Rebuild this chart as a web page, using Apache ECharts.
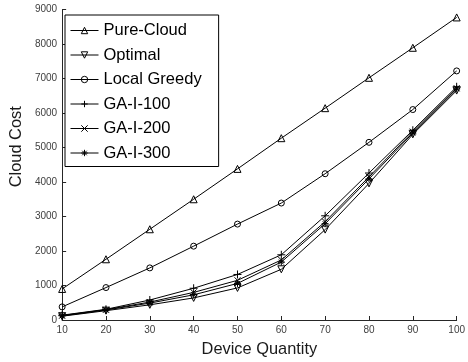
<!DOCTYPE html>
<html>
<head>
<meta charset="utf-8">
<script src="https://cdn.jsdelivr.net/npm/echarts@6/dist/echarts.min.js"></script>
<style>
  html, body { margin: 0; padding: 0; background: #fff; }
  #chart { width: 468px; height: 362px; }
</style>
</head>
<body>
<div id="chart"></div>
<script>
// Device counts on the x axis
const deviceQuantity = [10, 20, 30, 40, 50, 60, 70, 80, 90, 100];

// Cloud cost per strategy
const pureCloud   = [900, 1760, 2630, 3500, 4380, 5270, 6140, 7020, 7890, 8770];
const optimal     = [110, 270, 440, 640, 930, 1470, 2620, 3960, 5380, 6650];
const localGreedy = [380, 940, 1510, 2140, 2780, 3390, 4240, 5150, 6100, 7220];
const gaI100      = [140, 310, 580, 920, 1320, 1890, 3020, 4260, 5500, 6760];
const gaI200      = [130, 300, 520, 800, 1150, 1740, 2850, 4150, 5460, 6720];
const gaI300      = [120, 290, 490, 730, 1060, 1680, 2790, 4090, 5420, 6700];

const yTicks = [0, 1000, 2000, 3000, 4000, 5000, 6000, 7000, 8000, 9000];

// Marker outlines (stroked, unfilled)
const SYM_DOWN = 'path://M0,0 L10,0 L5,9 Z';
const SYM_PLUS = 'path://M5,0 L5,10 M0,5 L10,5';
const SYM_X    = 'path://M0,0 L10,10 M10,0 L0,10';
const SYM_STAR = 'path://M5,0 L5,10 M0,5 L10,5 M1.5,1.5 L8.5,8.5 M8.5,1.5 L1.5,8.5';

const FONT = 'Liberation Sans, Arial, Helvetica, sans-serif';

function pairs(vals) {
  return deviceQuantity.map((x, i) => [x, vals[i]]);
}

function lineSeries(name, vals, symbol, size) {
  return {
    name: name,
    type: 'line',
    data: pairs(vals),
    symbol: symbol,
    symbolSize: size,
    showAllSymbol: true,
    lineStyle: { color: '#000', width: 1 },
    itemStyle: { color: 'rgba(0,0,0,0)', borderColor: '#000', borderWidth: 1 },
    emphasis: { disabled: true },
    animation: false
  };
}

const chart = echarts.init(document.getElementById('chart'), null, { renderer: 'canvas' });

chart.setOption({
  backgroundColor: '#fff',
  animation: false,
  grid: { left: 51.5, right: 6.5, top: 9.5, bottom: 40.5 },
  legend: {
    orient: 'vertical',
    left: 65,
    top: 15,
    backgroundColor: '#fff',
    borderColor: '#000',
    borderWidth: 1,
    borderRadius: 0,
    padding: [7, 17, 5, 5],
    itemWidth: 28,
    itemHeight: 8,
    itemGap: 7.5,
    lineStyle: { width: 1, color: '#000' },
    itemStyle: { borderWidth: 1, borderColor: '#000', color: 'rgba(0,0,0,0)' },
    textStyle: { fontFamily: FONT, fontSize: 16.5, color: '#000', lineHeight: 17 },
    data: ['Pure-Cloud', 'Optimal', 'Local Greedy', 'GA-I-100', 'GA-I-200', 'GA-I-300']
  },
  xAxis: {
    type: 'value',
    min: 10,
    max: 100,
    interval: 10,
    name: 'Device Quantity',
    nameLocation: 'middle',
    nameGap: 21,
    nameTextStyle: { fontFamily: FONT, fontSize: 16.4, color: '#1a1a1a' },
    axisLine: { show: true, lineStyle: { color: '#262626', width: 1 } },
    axisTick: { show: true, inside: true, length: 4, lineStyle: { color: '#262626' } },
    axisLabel: { fontFamily: FONT, fontSize: 10, color: '#404040', margin: 5 },
    splitLine: { show: false }
  },
  yAxis: {
    type: 'value',
    min: 0,
    max: 9000,
    interval: 1000,
    name: 'Cloud Cost',
    nameLocation: 'middle',
    nameGap: 31,
    nameTextStyle: { fontFamily: FONT, fontSize: 16.4, color: '#1a1a1a', padding: [0, 0, 0, 36] },
    axisLine: { show: true, lineStyle: { color: '#262626', width: 1 } },
    axisTick: { show: true, inside: true, length: 4, lineStyle: { color: '#262626' } },
    axisLabel: {
      fontFamily: FONT, fontSize: 10, color: '#404040', margin: 5,
      formatter: v => (yTicks.indexOf(v) >= 0 ? String(v) : '')
    },
    splitLine: { show: false }
  },
  series: [
    lineSeries('Pure-Cloud', pureCloud, 'triangle', 7),
    lineSeries('Optimal', optimal, SYM_DOWN, 7),
    lineSeries('Local Greedy', localGreedy, 'circle', 6),
    lineSeries('GA-I-100', gaI100, SYM_PLUS, 8),
    lineSeries('GA-I-200', gaI200, SYM_X, 6),
    lineSeries('GA-I-300', gaI300, SYM_STAR, 7)
  ]
});
</script>
</body>
</html>
